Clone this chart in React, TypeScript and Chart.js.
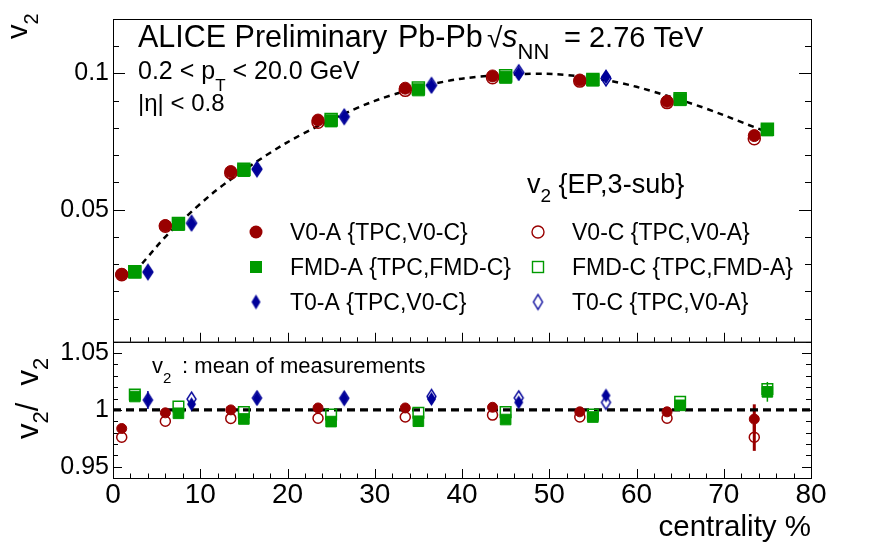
import React, { useEffect, useRef } from "react";
import { Chart, registerables } from "chart.js";

Chart.register(...registerables);

const FONT = '"Liberation Sans", Arimo, Arial, sans-serif';
const RED = "#990000";
const GREEN = "#009a00";
const BLUE = "#000099";

// ---- categories (centrality positions, %) ----
const X_V0 = [1, 6, 13.5, 23.5, 33.5, 43.5, 53.5, 63.5, 73.5];
const X_FMD = [2.5, 7.5, 15, 25, 35, 45, 55, 65, 75];
const X_T0 = [4, 9, 16.5, 26.5, 36.5, 46.5, 56.5];
const X_MEAN = [2.5, 7.5, 15, 25, 35, 45, 55, 65, 75];

// ---- v2 values (upper panel) ----
const V2_V0A = [0.0263, 0.0442, 0.064, 0.0829, 0.0946, 0.0991, 0.0976, 0.0898, 0.0772];
const V2_V0C = [0.0261, 0.0439, 0.0635, 0.0821, 0.0938, 0.0984, 0.0972, 0.0893, 0.076];
const V2_FMDA = [0.0271, 0.0446, 0.0644, 0.0826, 0.094, 0.0986, 0.0976, 0.0904, 0.0793];
const V2_FMDC = [0.0272, 0.0449, 0.0648, 0.0831, 0.0947, 0.0992, 0.0978, 0.0907, 0.0795];
const V2_T0A = [0.0271, 0.0449, 0.0649, 0.0841, 0.0955, 0.1, 0.0988];
const V2_T0C = [0.0271, 0.0451, 0.0649, 0.0841, 0.0957, 0.1004, 0.0982];
const V2_MEAN = [0.0272, 0.0448, 0.0645, 0.083, 0.0948, 0.0995, 0.0983, 0.0903, 0.0785];

// ---- ratio to mean (lower panel) ----
const R_V0A = [0.9836, 0.9974, 1.0, 1.0017, 1.0017, 1.0023, 0.9983, 0.9983, 0.9919];
const R_V0C = [0.9759, 0.99, 0.9925, 0.9926, 0.9937, 0.9954, 0.9937, 0.9926, 0.9759];
const R_FMDA = [1.0118, 0.997, 0.992, 0.9897, 0.99, 0.9915, 0.9937, 1.004, 1.0159];
const R_FMDC = [1.0135, 1.003, 0.998, 0.996, 0.9975, 0.998, 0.996, 1.0072, 1.0184];
const R_T0A = [1.0087, 1.005, 1.0103, 1.0103, 1.0095, 1.0066, 1.0127];
const R_T0C = [1.0087, 1.0095, 1.0105, 1.0103, 1.0118, 1.0106, 1.0066];
const E_V0A = [0, 0, 0, 0, 0, 0, 0, 0, 0.013];
const E_V0C = [0, 0, 0, 0, 0, 0, 0, 0, 0.012];
const E_FMDA = [0, 0, 0, 0, 0, 0, 0, 0, 0.0087];
const E_T0A = [0.008, 0, 0, 0, 0, 0, 0];
const RATIO_REF = 1;

// ---- axes ----
const X_TICKS = [0, 10, 20, 30, 40, 50, 60, 70, 80];
const TOP_TICKS = [0.05, 0.1];
const RATIO_TICKS = [0.95, 1, 1.05];
const X_RANGE = [0, 80];
const TOP_RANGE = [0.0015, 0.12];
const RATIO_RANGE = [0.94, 1.06];

const LEGEND_LEFT = ["V0-A {TPC,V0-C}", "FMD-A {TPC,FMD-C}", "T0-A {TPC,V0-C}"];
const LEGEND_RIGHT = ["V0-C {TPC,V0-A}", "FMD-C {TPC,FMD-A}", "T0-C {TPC,V0-A}"];

function pts(xs: number[], ys: number[]) {
  return xs.map((x, i) => ({ x, y: ys[i] }));
}

function makeDiamond(w: number, h: number, color: string, filled: boolean) {
  const c = document.createElement("canvas");
  const pad = 2;
  c.width = w + pad * 2;
  c.height = h + pad * 2;
  const g = c.getContext("2d")!;
  g.beginPath();
  g.moveTo(c.width / 2, pad);
  g.lineTo(c.width - pad, c.height / 2);
  g.lineTo(c.width / 2, c.height - pad);
  g.lineTo(pad, c.height / 2);
  g.closePath();
  if (filled) {
    g.fillStyle = color;
    g.fill();
  } else {
    g.lineWidth = 1.4;
    g.strokeStyle = color;
    g.stroke();
  }
  return c;
}

type Part = { t: string; size: number; dy?: number; italic?: boolean; at?: number };
function drawParts(ctx: CanvasRenderingContext2D, x: number, y: number, parts: Part[]) {
  let cx = x;
  for (const p of parts) {
    ctx.font = `${p.italic ? "italic " : ""}${p.size}px ${FONT}`;
    if (p.at !== undefined) cx = p.at;
    ctx.fillText(p.t, cx, y + (p.dy || 0));
    cx += ctx.measureText(p.t).width;
  }
}

const decorPlugin = {
  id: "decor",
  beforeDatasetsDraw(chart: any) {
    const ctx: CanvasRenderingContext2D = chart.ctx;
    const xs = chart.scales.x;
    const yt = chart.scales.yTop;
    const yr = chart.scales.yRatio;
    const L = xs.left;
    const R = xs.right;
    ctx.save();
    ctx.strokeStyle = "#000";
    ctx.lineWidth = 1;
    const line = (x1: number, y1: number, x2: number, y2: number) => {
      ctx.beginPath();
      ctx.moveTo(x1, y1);
      ctx.lineTo(x2, y2);
      ctx.stroke();
    };
    // frames
    ctx.strokeRect(L + 0.5, yt.top + 0.5, R - L, yt.bottom - yt.top);
    ctx.strokeRect(L + 0.5, yr.top + 0.5, R - L, yr.bottom - yr.top);
    // y ticks upper
    for (let k = 1; k <= 12; k++) {
      const y = Math.round(yt.getPixelForValue(k / 100)) + 0.5;
      const len = k % 5 === 0 ? 12 : 6;
      line(L, y, L + len, y);
      line(R, y, R - len, y);
    }
    // y ticks lower
    for (let k = 94; k <= 106; k++) {
      const y = Math.round(yr.getPixelForValue(k / 100)) + 0.5;
      const len = k % 5 === 0 ? 9 : 5;
      line(L, y, L + len, y);
      line(R, y, R - len, y);
    }
    // x ticks (bottom edges of both panels)
    for (let v = 0; v <= 80; v += 2) {
      const x = Math.round(xs.getPixelForValue(v)) + 0.5;
      const len = v % 10 === 0 ? 9 : 4.5;
      line(x, yt.bottom, x, yt.bottom - len);
      line(x, yr.bottom, x, yr.bottom - len);
    }
    // error bars
    chart.data.datasets.forEach((ds: any, i: number) => {
      if (!ds.errs) return;
      const meta = chart.getDatasetMeta(i);
      const ys = chart.scales[ds.yAxisID];
      ctx.strokeStyle = ds.borderColor;
      ctx.lineWidth = ds.errWidth || 1.5;
      ds.errs.forEach((e: number, j: number) => {
        if (!e) return;
        const p = ds.data[j];
        const x = meta.data[j].x;
        line(x, ys.getPixelForValue(p.y - e), x, ys.getPixelForValue(p.y + e));
      });
    });
    ctx.restore();
  },
  afterDraw(chart: any) {
    const ctx: CanvasRenderingContext2D = chart.ctx;
    ctx.save();
    ctx.fillStyle = "#000";
    ctx.textAlign = "left";
    ctx.textBaseline = "alphabetic";
    // header
    drawParts(ctx, 138, 47, [
      { t: "ALICE Preliminary", size: 30.5 },
      { t: "Pb-Pb", size: 30.5, at: 398 },
      { t: "\u221A", size: 28, at: 487 },
      { t: "s", size: 30.5, italic: true },
      { t: "NN", size: 22, dy: 12 },
      { t: "= 2.76 TeV", size: 29, at: 564 },
    ]);
    drawParts(ctx, 138, 79, [
      { t: "0.2 < p", size: 25 },
      { t: "T", size: 17, dy: 12 },
      { t: " < 20.0 GeV", size: 25 },
    ]);
    drawParts(ctx, 138, 111, [{ t: "|\u03B7| < 0.8", size: 24 }]);
    // legend header
    drawParts(ctx, 527, 193, [
      { t: "v", size: 27 },
      { t: "2", size: 19, dy: 9 },
      { t: " {EP,3-sub}", size: 27 },
    ]);
    // legend rows
    const rows = [232, 267, 302];
    const colors = [RED, GREEN, BLUE];
    rows.forEach((cy, i) => {
      drawParts(ctx, 290, cy + 8, [{ t: LEGEND_LEFT[i], size: 23 }]);
      drawParts(ctx, 572, cy + 8, [{ t: LEGEND_RIGHT[i], size: 23 }]);
      const c = colors[i];
      ctx.fillStyle = c;
      ctx.strokeStyle = c;
      ctx.lineWidth = 1.4;
      if (i === 0) {
        ctx.beginPath();
        ctx.arc(256, cy, 6.5, 0, Math.PI * 2);
        ctx.fill();
        ctx.beginPath();
        ctx.arc(538, cy, 6, 0, Math.PI * 2);
        ctx.stroke();
      } else if (i === 1) {
        ctx.fillRect(250, cy - 6, 12, 12);
        ctx.strokeRect(532.5, cy - 5.5, 11, 11);
      } else {
        const d1 = makeDiamond(9, 15, BLUE, true);
        const d2 = makeDiamond(9, 15, BLUE, false);
        ctx.drawImage(d1, 256 - d1.width / 2, cy - d1.height / 2);
        ctx.drawImage(d2, 538 - d2.width / 2, cy - d2.height / 2);
      }
      ctx.fillStyle = "#000";
    });
    // ratio annotation
    drawParts(ctx, 152, 373, [
      { t: "v", size: 22 },
      { t: "2", size: 15, dy: 10 },
      { t: " : mean of measurements", size: 22, at: 176 },
    ]);
    // y titles (rotated)
    ctx.save();
    ctx.translate(27, 39);
    ctx.rotate(-Math.PI / 2);
    drawParts(ctx, 0, 0, [
      { t: "v", size: 29 },
      { t: "2", size: 20, dy: 11 },
    ]);
    ctx.restore();
    ctx.save();
    ctx.translate(38, 439);
    ctx.rotate(-Math.PI / 2);
    drawParts(ctx, 0, 0, [
      { t: "v", size: 31 },
      { t: "2", size: 22, dy: 10 },
      { t: "/  ", size: 31 },
      { t: "v", size: 31 },
      { t: "2", size: 22, dy: 10 },
    ]);
    ctx.restore();
    ctx.restore();
  },
};

export default function App() {
  const ref = useRef<HTMLCanvasElement>(null);
  useEffect(() => {
    if (!ref.current) return;
    const dFillTop = makeDiamond(10, 15, BLUE, true);
    const dOpenTop = makeDiamond(10, 15, BLUE, false);
    const dFillLow = makeDiamond(9, 14, BLUE, true);
    const dOpenLow = makeDiamond(9, 14, BLUE, false);

    const mk = (
      label: string,
      xs: number[],
      ys: number[],
      axis: string,
      style: any,
      color: string,
      filled: boolean,
      radius: number,
      errs?: number[],
      errWidth?: number
    ) => ({
      label,
      data: pts(xs, ys),
      yAxisID: axis,
      pointStyle: style,
      pointRadius: radius,
      backgroundColor: filled ? color : "rgba(0,0,0,0)",
      borderColor: color,
      borderWidth: filled ? 1 : 1.5,
      order: filled ? 1 : 5,
      showLine: false,
      errs,
      errWidth,
    });

    const datasets: any[] = [
      {
        label: "mean",
        data: pts(X_MEAN, V2_MEAN),
        yAxisID: "yTop",
        showLine: true,
        borderColor: "#000",
        borderWidth: 2.5,
        borderDash: [6, 5],
        tension: 0.4,
        pointRadius: 0,
        order: 10,
      },
      {
        label: "ref",
        data: pts(X_RANGE, [RATIO_REF, RATIO_REF]),
        yAxisID: "yRatio",
        showLine: true,
        borderColor: "#000",
        borderWidth: 3.2,
        borderDash: [8, 5],
        pointRadius: 0,
        order: 10,
      },
      mk("V0-C", X_V0, V2_V0C, "yTop", "circle", RED, false, 6),
      mk("FMD-C", X_FMD, V2_FMDC, "yTop", "rect", GREEN, false, 8.5),
      mk("T0-C", X_T0, V2_T0C, "yTop", dOpenTop, BLUE, false, 5),
      mk("V0-A", X_V0, V2_V0A, "yTop", "circle", RED, true, 6),
      mk("FMD-A", X_FMD, V2_FMDA, "yTop", "rect", GREEN, true, 8.5),
      mk("T0-A", X_T0, V2_T0A, "yTop", dFillTop, BLUE, true, 5),
      mk("rV0-C", X_V0, R_V0C, "yRatio", "circle", RED, false, 5, E_V0C, 3),
      mk("rFMD-C", X_FMD, R_FMDC, "yRatio", "rect", GREEN, false, 7.5),
      mk("rT0-C", X_T0, R_T0C, "yRatio", dOpenLow, BLUE, false, 5),
      mk("rV0-A", X_V0, R_V0A, "yRatio", "circle", RED, true, 5, E_V0A, 3),
      mk("rFMD-A", X_FMD, R_FMDA, "yRatio", "rect", GREEN, true, 7.5, E_FMDA, 1.5),
      mk("rT0-A", X_T0, R_T0A, "yRatio", dFillLow, BLUE, true, 5, E_T0A, 1.5),
    ];

    const tickFont = { family: FONT, size: 25 };
    const chart = new Chart(ref.current, {
      type: "scatter",
      data: { datasets },
      options: {
        animation: false,
        responsive: false,
        devicePixelRatio: 1,
        events: [],
        layout: { padding: { top: 13, right: 70, bottom: 0, left: 0 } },
        plugins: { legend: { display: false }, tooltip: { enabled: false } },
        scales: {
          x: {
            type: "linear",
            position: "bottom",
            min: X_RANGE[0],
            max: X_RANGE[1],
            grid: { display: false, drawTicks: false },
            border: { display: false },
            afterBuildTicks: (s: any) => {
              s.ticks = X_TICKS.map((v) => ({ value: v }));
            },
            afterFit: (s: any) => {
              s.height = 71;
            },
            ticks: {
              font: { family: FONT, size: 28 },
              color: "#000",
              padding: 0,
              maxRotation: 0,
              autoSkip: false,
              callback: (v: any) => String(v),
            },
            title: {
              display: true,
              text: "centrality %",
              align: "end",
              color: "#000",
              font: { family: FONT, size: 29.5 },
              padding: { top: 0, bottom: 3 },
            },
          },
          yRatio: {
            type: "linear",
            position: "left",
            stack: "panels",
            stackWeight: 138,
            min: RATIO_RANGE[0],
            max: RATIO_RANGE[1],
            grid: { display: false, drawTicks: false },
            border: { display: false },
            afterBuildTicks: (s: any) => {
              s.ticks = RATIO_TICKS.map((v) => ({ value: v }));
            },
            afterFit: (s: any) => {
              s.width = 113;
            },
            ticks: { font: tickFont, color: "#000", padding: 4, callback: (v: any) => String(v) },
          },
          yTop: {
            type: "linear",
            position: "left",
            stack: "panels",
            stackWeight: 327,
            min: TOP_RANGE[0],
            max: TOP_RANGE[1],
            grid: { display: false, drawTicks: false },
            border: { display: false },
            afterBuildTicks: (s: any) => {
              s.ticks = TOP_TICKS.map((v) => ({ value: v }));
            },
            afterFit: (s: any) => {
              s.width = 113;
            },
            ticks: { font: tickFont, color: "#000", padding: 4, callback: (v: any) => String(v) },
          },
        },
      } as any,
      plugins: [decorPlugin as any],
    });
    return () => chart.destroy();
  }, []);

  return (
    <div style={{ position: "absolute", left: 0, top: 0, width: 881, height: 549, background: "#fff" }}>
      <canvas ref={ref} width={881} height={549} style={{ width: 881, height: 549, display: "block" }} />
    </div>
  );
}
